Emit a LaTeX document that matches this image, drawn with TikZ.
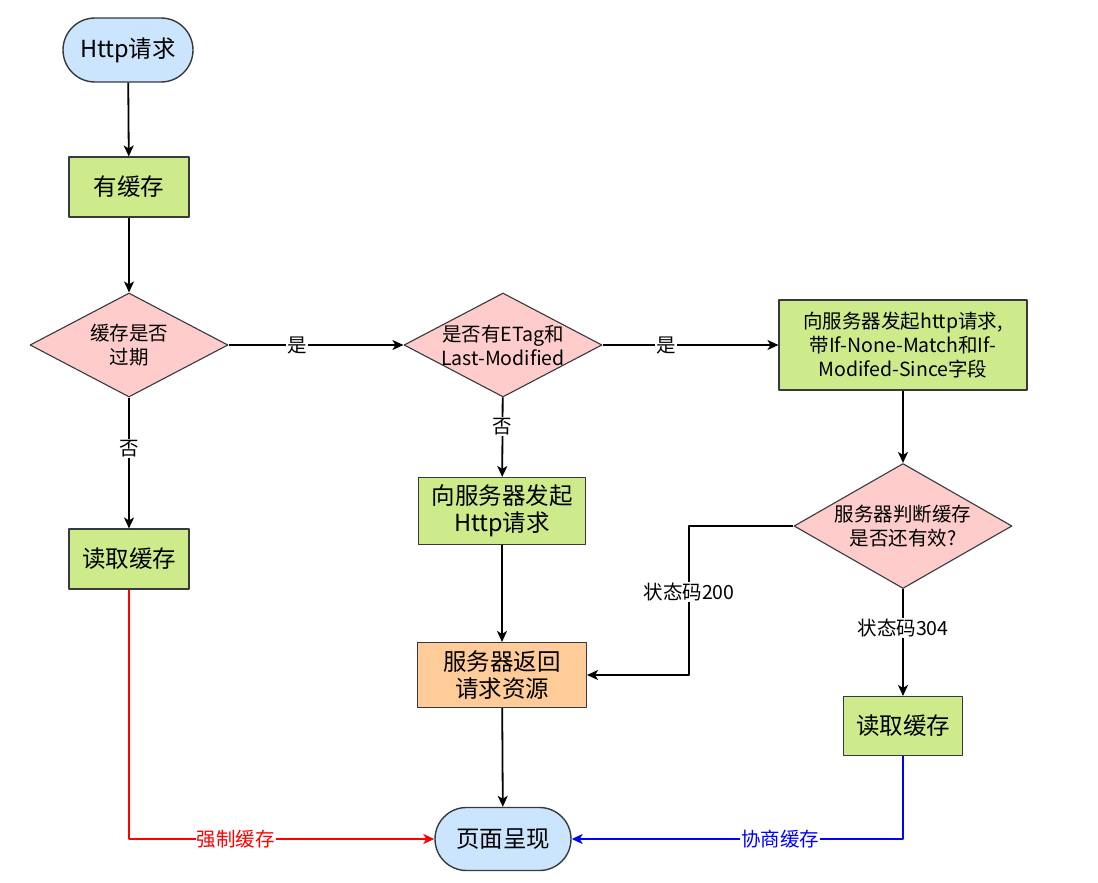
\documentclass[tikz,border=0pt]{standalone}
\usepackage{fontspec}
\setmainfont{Noto Sans CJK SC}
\usetikzlibrary{shapes.geometric,shapes.misc,arrows.meta}
\definecolor{termfill}{HTML}{CCE5FF}
\definecolor{procfill}{HTML}{CDEB8B}
\definecolor{decifill}{HTML}{FFCCCC}
\definecolor{retfill}{HTML}{FFCC99}
\definecolor{strk}{HTML}{36393D}
\begin{document}
\begin{tikzpicture}[x=1pt,y=-1pt, line join=round, >={Stealth[length=11pt,width=10pt,inset=3pt]}]

		\tikzset{big text/.style={font=\fontsize{23.5}{27}\selectfont, align=center},
			small text/.style={font=\fontsize{19.5}{24}\selectfont, align=center},
			term/.style={rounded rectangle, draw=strk, line width=1.4pt, fill=termfill, inner sep=0pt, big text},
			proc/.style={rectangle, draw=strk, line width=1.1pt, fill=procfill, inner sep=0pt, big text},
			deci/.style={diamond, draw=strk, line width=1.1pt, fill=decifill, inner sep=0pt},
			flow/.style={->, line width=1.8pt},
			edge label/.style={fill=white, inner sep=1pt, small text}}

		\useasboundingbox (0,0) rectangle (1098,883);

		% nodes
		\node[term, minimum width=130pt, minimum height=64pt] (start) at (128,50) {Http请求};
		\node[proc, minimum width=120pt, minimum height=60pt] (cache) at (129,187) {有缓存};
		\node[deci, minimum width=198pt, minimum height=104pt, label={[small text]center:{缓存是否\\过期}}] (expired) at (129,345) {};
		\node[proc, minimum width=120pt, minimum height=60pt] (readL) at (129,559) {读取缓存};
		\node[deci, minimum width=198pt, minimum height=104pt, label={[small text]center:{是否有ETag和\\Last-Modified}}] (etag) at (503,345) {};
		\node[proc, small text, minimum width=248pt, minimum height=90pt] (cond) at (903,345) {向服务器发起http请求,\\带If-None-Match和If-\\Modifed-Since字段};
		\node[deci, minimum width=218pt, minimum height=125pt, label={[small text]center:{服务器判断缓存\\是否还有效?}}] (valid) at (903,526) {};
		\node[proc, minimum width=167pt, minimum height=67pt] (req) at (502,511) {向服务器发起\\Http请求};
		\node[proc, fill=retfill, minimum width=169pt, minimum height=65pt] (ret) at (502,675) {服务器返回\\请求资源};
		\node[proc, minimum width=119pt, minimum height=59pt] (readR) at (903,726) {读取缓存};
		\node[term, minimum width=136pt, minimum height=63pt] (page) at (503,839) {页面呈现};
		\coordinate (c200) at (689,526);

		% connectors
		\draw[flow] (start) -- (cache);
		\draw[flow] (cache) -- (expired);
		\draw[flow] (expired) -- node[edge label, pos=.39] {否} (readL);
		\draw[flow] (expired) -- node[edge label, pos=.39] {是} (etag);
		\draw[flow] (etag) -- node[edge label, pos=.36] {是} (cond);
		\draw[flow] (etag) -- node[edge label, pos=.37] {否} (req);
		\draw[flow] (req) -- (ret);
		\draw[flow] (cond) -- (valid);
		\draw[flow] (valid.west) -- (c200) |- node[edge label, pos=.22] {状态码200} (ret.east);
		\draw[flow] (valid) -- node[edge label, pos=.36] {状态码304} (readR);
		\draw[flow] (ret) -- (page);
		\draw[flow, red] (readL) |- node[edge label, pos=.675, text=red] {强制缓存} (page);
		\draw[flow, blue] (readR) |- node[edge label, pos=.685, text=blue] {协商缓存} (page);
	\end{tikzpicture}
\end{document}
